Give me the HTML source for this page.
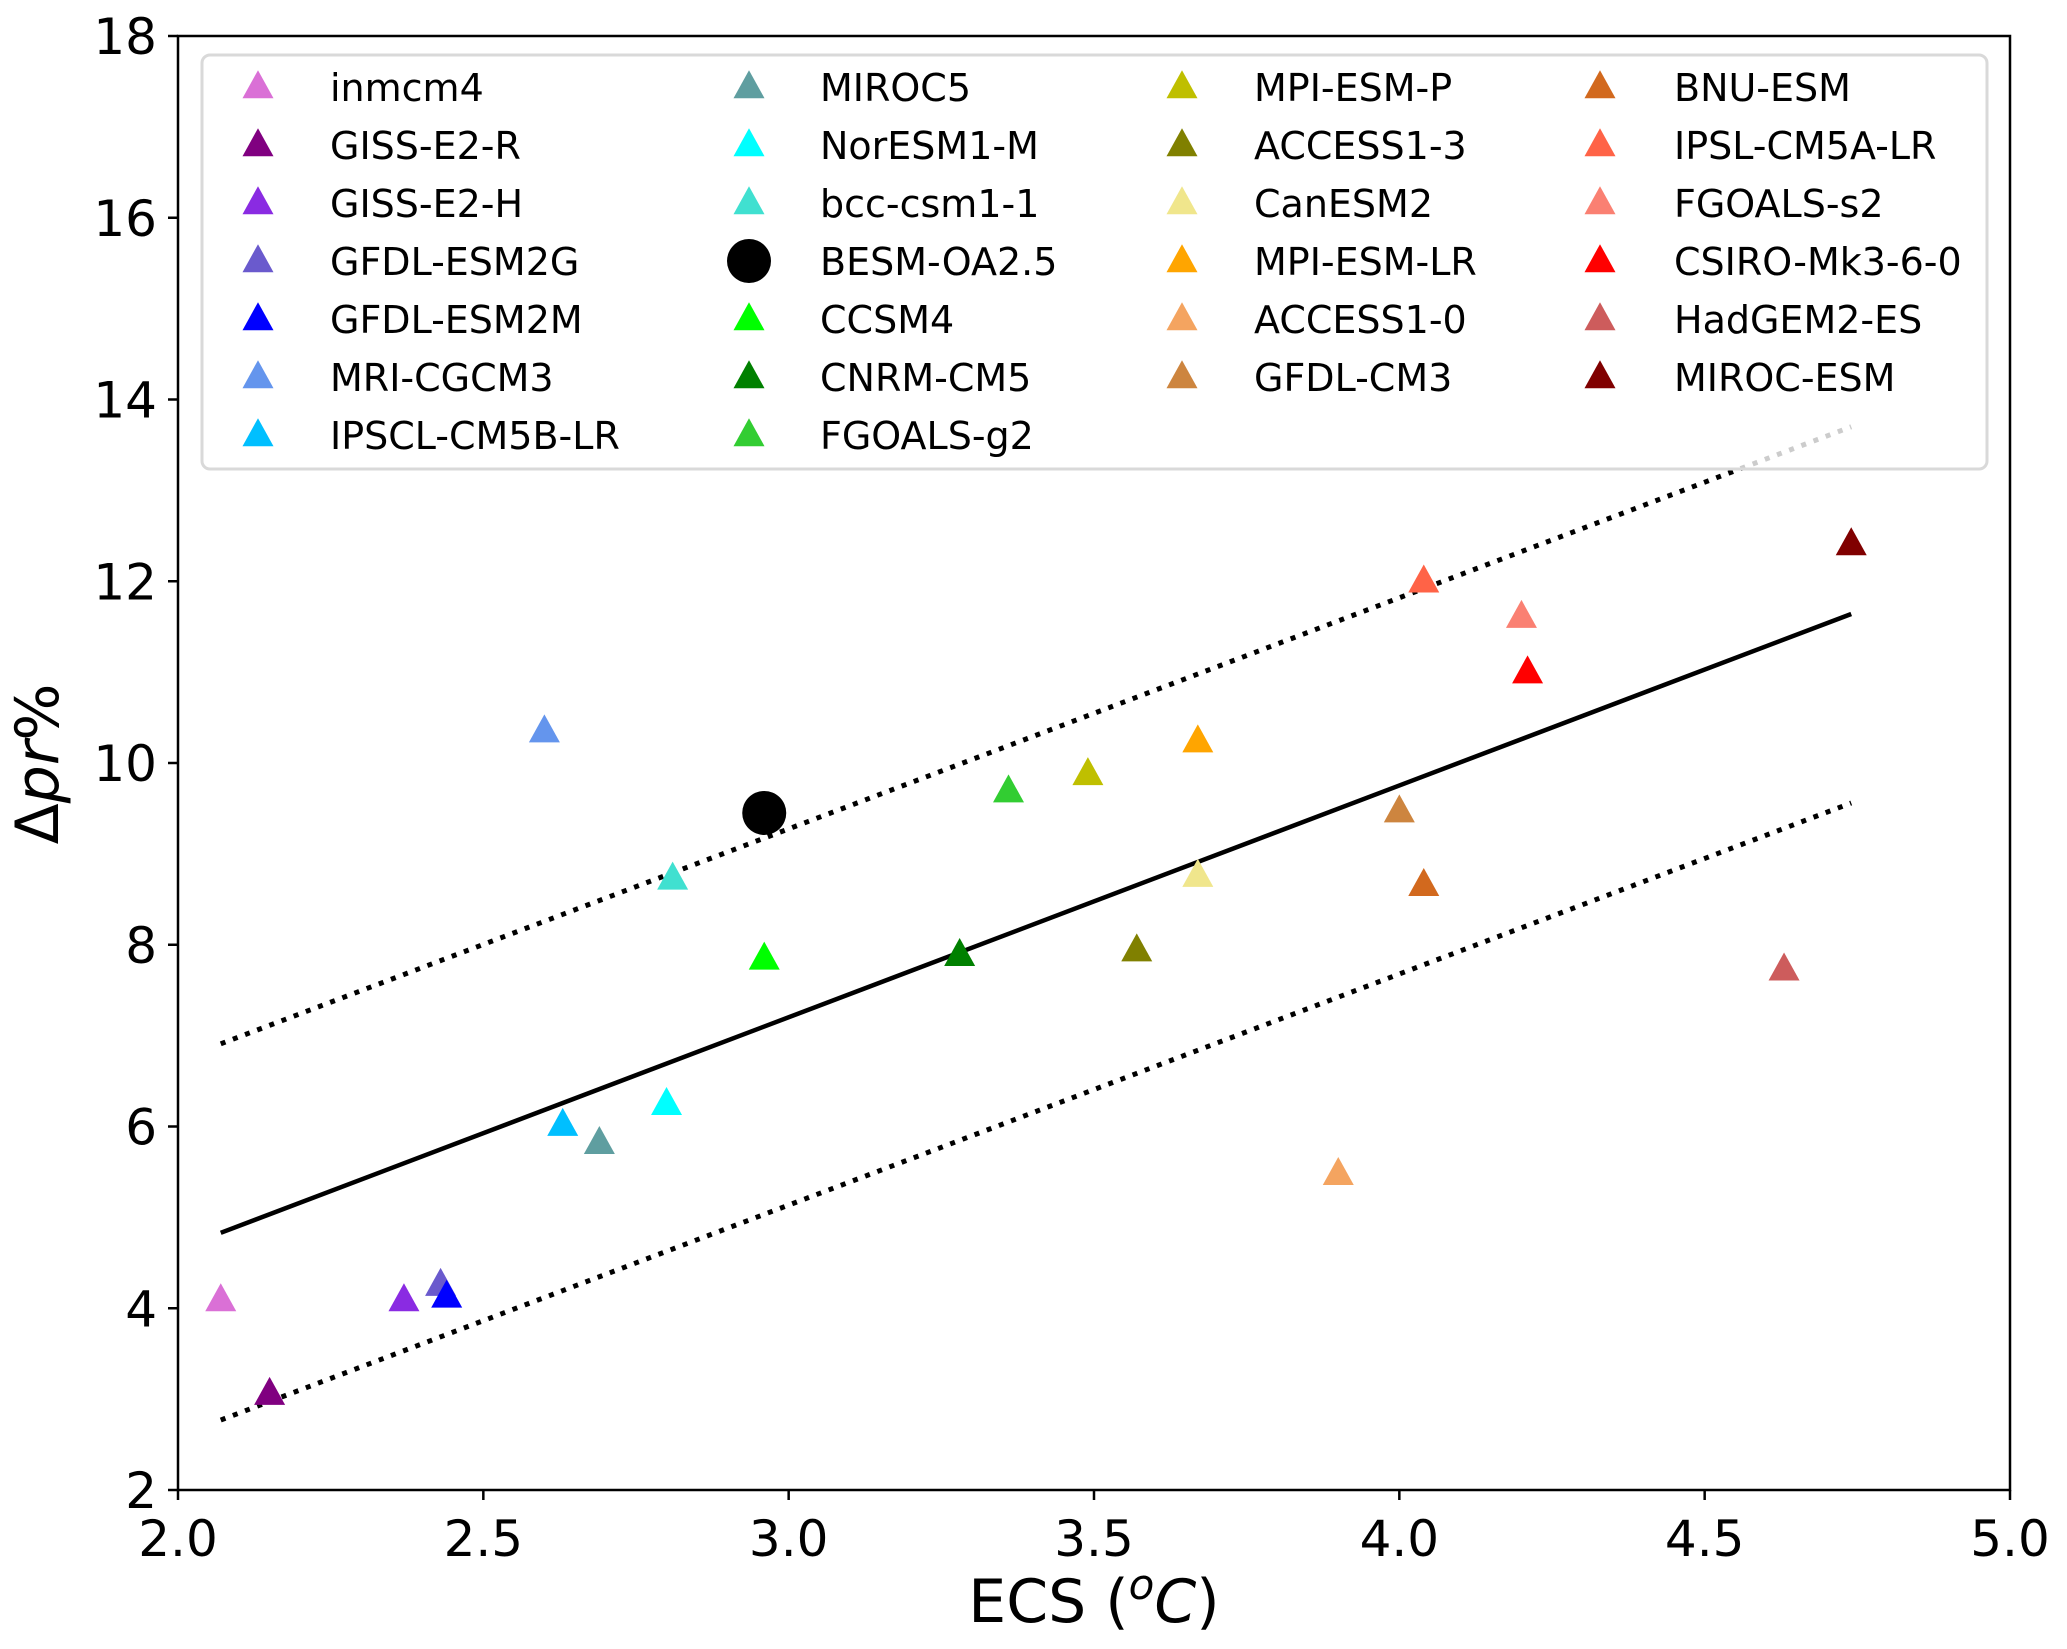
<!DOCTYPE html>
<html><head><meta charset="utf-8"><style>
html,body{margin:0;padding:0;background:#fff}
svg{display:block;font-family:"DejaVu Sans","Liberation Sans",sans-serif}
</style></head><body>
<svg id="chart" width="2067" height="1649" viewBox="0 0 2067 1649" xmlns="http://www.w3.org/2000/svg">
</svg>
<script>
const models = ["inmcm4","GISS-E2-R","GISS-E2-H","GFDL-ESM2G","GFDL-ESM2M","MRI-CGCM3","IPSCL-CM5B-LR","MIROC5","NorESM1-M","bcc-csm1-1","BESM-OA2.5","CCSM4","CNRM-CM5","FGOALS-g2","MPI-ESM-P","ACCESS1-3","CanESM2","MPI-ESM-LR","ACCESS1-0","GFDL-CM3","BNU-ESM","IPSL-CM5A-LR","FGOALS-s2","CSIRO-Mk3-6-0","HadGEM2-ES","MIROC-ESM"];
const colors = ["#da70d6","#800080","#8a2be2","#6a5acd","#0000ff","#6495ed","#00bfff","#5f9ea0","#00ffff","#40e0d0","#000000","#00ff00","#008000","#32cd32","#bfbf00","#808000","#f0e68c","#ffa500","#f4a460","#cd853f","#d2691e","#ff6347","#fa8072","#ff0000","#cd5c5c","#800000"];
const ecs = [2.07,2.15,2.37,2.43,2.44,2.60,2.63,2.69,2.80,2.81,2.96,2.96,3.28,3.36,3.49,3.57,3.67,3.67,3.90,4.00,4.04,4.04,4.20,4.21,4.63,4.74];
const dpr = [4.09,3.06,4.09,4.26,4.13,10.35,6.02,5.82,6.25,8.73,9.45,7.85,7.89,9.69,9.88,7.94,8.76,10.24,5.48,9.47,8.66,12.0,11.61,11.0,7.73,12.41];
const fitX = [2.07,4.74];
const fitY = [4.83,11.64];
const upperY = [6.91,13.70];
const lowerY = [2.77,9.56];
const xTicks = ["2.0","2.5","3.0","3.5","4.0","4.5","5.0"];
const yTicks = ["2","4","6","8","10","12","14","16","18"];
const legendColSizes = [7,7,6,6];

const NS="http://www.w3.org/2000/svg";
const svg=document.getElementById('chart');
const L=178,R=2010,T=36,B=1490;
const X=v=>L+(v-2)/3*(R-L);
const Y=v=>B-(v-2)/16*(B-T);
function mk(tag,attrs,parent){const e=document.createElementNS(NS,tag);for(const k in attrs)e.setAttribute(k,attrs[k]);(parent||svg).appendChild(e);return e;}

const l1=mk('line',{x1:X(fitX[0]),y1:Y(fitY[0]),x2:X(fitX[1]),y2:Y(fitY[1]),stroke:'#000','stroke-width':4.5});


const l2=mk('line',{x1:X(fitX[0]),y1:Y(upperY[0]),x2:X(fitX[1]),y2:Y(upperY[1]),stroke:'#000','stroke-width':5,'stroke-dasharray':'5 8'});


const l3=mk('line',{x1:X(fitX[0]),y1:Y(lowerY[0]),x2:X(fitX[1]),y2:Y(lowerY[1]),stroke:'#000','stroke-width':5,'stroke-dasharray':'5 8'});



function marker(cx,cy,i,parent){
  if(models[i]==="BESM-OA2.5") return mk('circle',{cx:cx,cy:cy,r:22,fill:colors[i]},parent);
  const h=28,w=31;
  return mk('polygon',{points:`${cx},${cy-h*0.6} ${cx-w/2},${cy+h*0.4} ${cx+w/2},${cy+h*0.4}`,fill:colors[i]},parent);
}
for(let i=0;i<models.length;i++){
  const p=marker(X(ecs[i]),Y(dpr[i]),i);
  
  
}
const fr=mk('rect',{x:L,y:T,width:R-L,height:B-T,fill:'none',stroke:'#000','stroke-width':2.5});


xTicks.forEach(t=>{
  const x=X(parseFloat(t));
  mk('line',{x1:x,y1:B,x2:x,y2:B+10,stroke:'#000','stroke-width':2.5});
  const tx=mk('text',{x:x,y:1556,'text-anchor':'middle','font-size':50});
  tx.textContent=t;
  
  
});
yTicks.forEach(t=>{
  const y=Y(parseFloat(t));
  mk('line',{x1:L-10,y1:y,x2:L,y2:y,stroke:'#000','stroke-width':2.5});
  const tx=mk('text',{x:157,y:y+18,'text-anchor':'end','font-size':50});
  tx.textContent=t;
  
  
});
const xt=mk('text',{x:1094,y:1622,'text-anchor':'middle','font-size':60});
xt.innerHTML='ECS (<tspan font-size="42" dy="-23" font-style="italic">o</tspan><tspan dy="23" font-style="italic">C</tspan>)';


const yt=mk('text',{x:0,y:0,'text-anchor':'middle','font-size':60,transform:'translate(58,764) rotate(-90)'});
yt.innerHTML='Δ<tspan font-style="italic">pr</tspan>%';



const lg=mk('g',{});


mk('rect',{x:202,y:55,width:1785,height:414,rx:8,fill:'#fff','fill-opacity':0.8,stroke:'#d9d9d9','stroke-width':3},lg);
const colMx=[258,749,1182,1600], colTx=[330,820,1254,1674];
let idx=0;
legendColSizes.forEach((n,c)=>{
  for(let r=0;r<n;r++,idx++){
    const i=idx, cy=87+r*58;
    const g=mk('g',{},lg);
    
    
    marker(colMx[c],cy,i,g);
    const t=mk('text',{x:colTx[c],y:cy+14,'font-size':38},g);
    t.textContent=models[i];
  }
});
</script>
</body></html>
